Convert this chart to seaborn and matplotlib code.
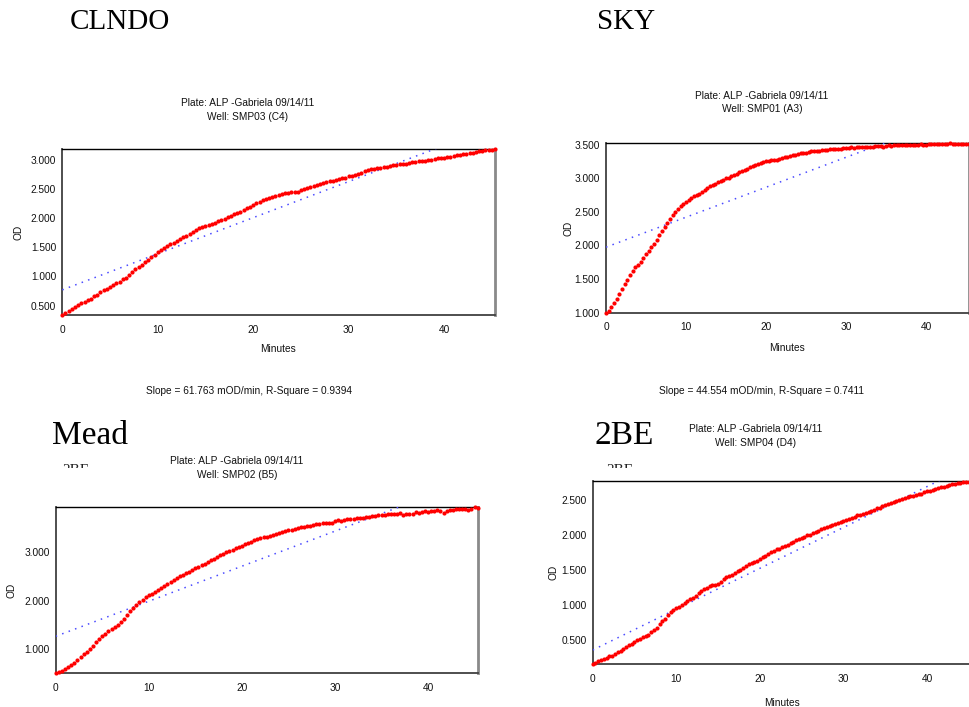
import numpy as np
import pandas as pd
import seaborn as sns
import matplotlib
matplotlib.use("Agg")
import matplotlib.pyplot as plt
from matplotlib.ticker import MultipleLocator, FormatStrFormatter
from matplotlib.patches import Rectangle

# ---- kinetic read times (seconds) ----
read_seconds = [
    0, 20, 40, 60, 80, 100, 120, 140, 160, 180,
    200, 220, 240, 260, 280, 300, 320, 340, 360, 380,
    400, 420, 440, 460, 480, 500, 520, 540, 560, 580,
    600, 620, 640, 660, 680, 700, 720, 740, 760, 780,
    800, 820, 840, 860, 880, 900, 920, 940, 960, 980,
    1000, 1020, 1040, 1060, 1080, 1100, 1120, 1140, 1160, 1180,
    1200, 1220, 1240, 1260, 1280, 1300, 1320, 1340, 1360, 1380,
    1400, 1420, 1440, 1460, 1480, 1500, 1520, 1540, 1560, 1580,
    1600, 1620, 1640, 1660, 1680, 1700, 1720, 1740, 1760, 1780,
    1800, 1820, 1840, 1860, 1880, 1900, 1920, 1940, 1960, 1980,
    2000, 2020, 2040, 2060, 2080, 2100, 2120, 2140, 2160, 2180,
    2200, 2220, 2240, 2260, 2280, 2300, 2320, 2340, 2360, 2380,
    2400, 2420, 2440, 2460, 2480, 2500, 2520, 2540, 2560, 2580,
    2600, 2620, 2640, 2660, 2680, 2700, 2720,
]

# ---- OD readings per well ----
od_clndo = [
    0.34, 0.37, 0.41, 0.44, 0.48, 0.51, 0.54, 0.57, 0.59, 0.62,
    0.66, 0.69, 0.73, 0.76, 0.79, 0.82, 0.85, 0.88, 0.91, 0.95,
    0.98, 1.03, 1.08, 1.12, 1.16, 1.20, 1.24, 1.28, 1.33, 1.37,
    1.41, 1.45, 1.48, 1.52, 1.55, 1.58, 1.61, 1.64, 1.67, 1.70,
    1.73, 1.76, 1.79, 1.82, 1.84, 1.86, 1.88, 1.90, 1.92, 1.94,
    1.96, 1.99, 2.01, 2.04, 2.07, 2.09, 2.11, 2.14, 2.17, 2.19,
    2.23, 2.26, 2.28, 2.30, 2.33, 2.35, 2.36, 2.38, 2.40, 2.41,
    2.42, 2.43, 2.44, 2.45, 2.45, 2.47, 2.49, 2.51, 2.53, 2.54,
    2.56, 2.58, 2.60, 2.61, 2.63, 2.64, 2.65, 2.67, 2.68, 2.69,
    2.71, 2.72, 2.74, 2.75, 2.77, 2.80, 2.82, 2.83, 2.84, 2.85,
    2.86, 2.87, 2.88, 2.89, 2.90, 2.91, 2.92, 2.92, 2.93, 2.94,
    2.95, 2.96, 2.97, 2.97, 2.98, 2.99, 3.00, 3.01, 3.02, 3.02,
    3.03, 3.04, 3.05, 3.06, 3.07, 3.08, 3.09, 3.10, 3.11, 3.12,
    3.13, 3.14, 3.15, 3.16, 3.17, 3.17, 3.18,
]
od_sky = [
    1.00, 1.03, 1.08, 1.14, 1.20, 1.28, 1.35, 1.42, 1.49, 1.56,
    1.62, 1.68, 1.71, 1.75, 1.81, 1.87, 1.92, 1.97, 2.02, 2.08,
    2.15, 2.21, 2.27, 2.33, 2.39, 2.45, 2.50, 2.55, 2.58, 2.62,
    2.65, 2.68, 2.71, 2.73, 2.75, 2.77, 2.80, 2.82, 2.85, 2.88,
    2.90, 2.92, 2.94, 2.96, 2.98, 3.00, 3.01, 3.03, 3.05, 3.07,
    3.09, 3.11, 3.13, 3.14, 3.16, 3.18, 3.19, 3.21, 3.22, 3.24,
    3.25, 3.26, 3.27, 3.27, 3.27, 3.29, 3.30, 3.31, 3.32, 3.33,
    3.34, 3.35, 3.36, 3.37, 3.38, 3.38, 3.39, 3.40, 3.40, 3.41,
    3.41, 3.42, 3.42, 3.42, 3.43, 3.43, 3.44, 3.44, 3.44, 3.45,
    3.45, 3.45, 3.46, 3.45, 3.46, 3.46, 3.47, 3.46, 3.47, 3.47,
    3.47, 3.48, 3.48, 3.48, 3.47, 3.48, 3.49, 3.48, 3.49, 3.49,
    3.49, 3.50, 3.49, 3.50, 3.50, 3.50, 3.50, 3.50, 3.51, 3.50,
    3.50, 3.51, 3.51, 3.51, 3.51, 3.51, 3.51, 3.51, 3.51, 3.52,
    3.51, 3.51, 3.51, 3.51, 3.51, 3.51, 3.51,
]
od_mead = [
    0.51, 0.53, 0.56, 0.60, 0.64, 0.68, 0.73, 0.78, 0.84, 0.90,
    0.95, 1.01, 1.08, 1.15, 1.21, 1.27, 1.32, 1.37, 1.42, 1.46,
    1.51, 1.57, 1.63, 1.70, 1.78, 1.85, 1.92, 1.97, 2.02, 2.07,
    2.11, 2.14, 2.18, 2.22, 2.26, 2.30, 2.35, 2.39, 2.43, 2.46,
    2.50, 2.53, 2.57, 2.60, 2.63, 2.67, 2.70, 2.73, 2.76, 2.79,
    2.83, 2.86, 2.90, 2.94, 2.97, 3.00, 3.03, 3.05, 3.08, 3.10,
    3.13, 3.16, 3.18, 3.21, 3.24, 3.26, 3.28, 3.30, 3.32, 3.34,
    3.36, 3.38, 3.40, 3.41, 3.43, 3.45, 3.46, 3.48, 3.49, 3.51,
    3.52, 3.53, 3.54, 3.56, 3.57, 3.58, 3.59, 3.59, 3.60, 3.60,
    3.63, 3.65, 3.64, 3.65, 3.67, 3.68, 3.68, 3.69, 3.70, 3.71,
    3.73, 3.73, 3.74, 3.75, 3.76, 3.77, 3.77, 3.78, 3.78, 3.78,
    3.79, 3.81, 3.77, 3.78, 3.79, 3.79, 3.82, 3.81, 3.83, 3.84,
    3.83, 3.85, 3.85, 3.86, 3.85, 3.81, 3.85, 3.87, 3.87, 3.88,
    3.89, 3.89, 3.88, 3.86, 3.89, 3.92, 3.90,
]
od_2be = [
    0.15, 0.17, 0.19, 0.21, 0.22, 0.24, 0.26, 0.27, 0.30, 0.32,
    0.34, 0.37, 0.39, 0.42, 0.44, 0.46, 0.49, 0.51, 0.53, 0.55,
    0.57, 0.61, 0.64, 0.67, 0.72, 0.76, 0.80, 0.85, 0.89, 0.92,
    0.95, 0.97, 1.00, 1.03, 1.05, 1.08, 1.10, 1.13, 1.16, 1.19,
    1.22, 1.24, 1.27, 1.28, 1.28, 1.30, 1.33, 1.36, 1.39, 1.41,
    1.43, 1.45, 1.48, 1.50, 1.52, 1.55, 1.58, 1.60, 1.61, 1.63,
    1.65, 1.68, 1.70, 1.72, 1.75, 1.77, 1.79, 1.80, 1.82, 1.84,
    1.86, 1.88, 1.90, 1.92, 1.94, 1.96, 1.97, 1.99, 2.00, 2.02,
    2.04, 2.06, 2.08, 2.09, 2.11, 2.12, 2.14, 2.15, 2.17, 2.18,
    2.20, 2.21, 2.22, 2.24, 2.26, 2.28, 2.29, 2.30, 2.31, 2.33,
    2.34, 2.35, 2.38, 2.39, 2.41, 2.43, 2.44, 2.46, 2.47, 2.49,
    2.50, 2.51, 2.52, 2.54, 2.55, 2.56, 2.57, 2.58, 2.59, 2.61,
    2.62, 2.63, 2.64, 2.66, 2.67, 2.68, 2.69, 2.70, 2.71, 2.72,
    2.73, 2.74, 2.74, 2.75, 2.75, 2.76, 2.77,
]

# ---- sample names, wells and linear fits (slope in OD/min) ----
sample_names = ["CLNDO", "SKY", "Mead", "2BE"]
well_labels = ["SMP03 (C4)", "SMP01 (A3)", "SMP02 (B5)", "SMP04 (D4)"]
plate_label = "Plate: ALP -Gabriela 09/14/11"
fit_slopes = [0.061763, 0.044554, 0.072, 0.0585]
fit_intercepts = [0.77, 1.975, 1.27, 0.35]
r_squares = [0.9394, 0.7411, None, None]

W, H = 970, 707
sns.set_style("white")
plt.rcParams["font.family"] = ["Liberation Sans", "DejaVu Sans"]

fig = plt.figure(figsize=(W / 100, H / 100), dpi=100)
fig.patch.set_facecolor("white")


def fx(x):
    return x / W


def fy(y):
    return 1 - y / H


def box(l, t, r, b):
    return [l / W, 1 - b / H, (r - l) / W, (b - t) / H]


small = dict(fontsize=7.3, color="#111111", ha="center", va="center")

layout = [
    dict(box=(62.3, 149, 495, 315), ymajor=0.5, yminor=0.25,
         title=(248, 103), minutes=(278, 349), od=(19, 232), slope=(249, 391),
         name=(120, 22), name_size=21),
    dict(box=(606, 143.3, 968.7, 312.7), ymajor=0.5, yminor=0.25,
         title=(762, 96), minutes=(787, 348), od=(569, 228), slope=(762, 391),
         name=(626, 22), name_size=21),
    dict(box=(55.7, 507.3, 477.7, 673.3), ymajor=1.0, yminor=0.5,
         title=(237, 461), minutes=None, od=(12, 590), slope=None,
         name=(90, 436), name_size=24),
    dict(box=(592.7, 481, 971.6, 664), ymajor=0.5, yminor=0.25,
         title=(756, 429), minutes=(782, 703), od=(554, 572), slope=None,
         name=(624, 436), name_size=24),
]

series = [od_clndo, od_sky, od_mead, od_2be]
minutes = np.array(read_seconds) / 60.0

for i, (od, lay) in enumerate(zip(series, layout)):
    ax = fig.add_axes(box(*lay["box"]))
    df = pd.DataFrame({"Minutes": minutes, "OD": od})

    # linear fit drawn from the reported slope
    fit_x = np.array([0.0, minutes[-1]])
    fit_y = fit_intercepts[i] + fit_slopes[i] * fit_x
    sns.lineplot(x=fit_x, y=fit_y, ax=ax, color="#4b4bff", linewidth=1.1,
                 linestyle=(0, (1, 3.5)), zorder=2)

    sns.scatterplot(data=df, x="Minutes", y="OD", ax=ax, color="#ff0000",
                    s=9, linewidth=0, zorder=3, clip_on=False)

    ax.set_xlim(0, minutes[-1])
    ax.set_ylim(min(od), max(od))
    ax.set_xlabel("")
    ax.set_ylabel("")
    ax.set_facecolor("white")

    ax.xaxis.set_major_locator(MultipleLocator(10))
    ax.xaxis.set_minor_locator(MultipleLocator(5))
    ax.yaxis.set_major_locator(MultipleLocator(lay["ymajor"]))
    ax.yaxis.set_minor_locator(MultipleLocator(lay["yminor"]))
    ax.yaxis.set_major_formatter(FormatStrFormatter("%.3f"))
    ax.xaxis.set_major_formatter(FormatStrFormatter("%d"))

    ax.tick_params(which="both", direction="inout", length=6, width=1.1,
                   color="#333333", labelsize=7.3, labelcolor="#111111",
                   top=False, right=False)
    ax.tick_params(axis="x", which="major", pad=4)
    ax.tick_params(axis="y", which="major", pad=1.5)

    ax.spines["left"].set_color("#404040")
    ax.spines["left"].set_linewidth(1.3)
    ax.spines["bottom"].set_color("#404040")
    ax.spines["bottom"].set_linewidth(1.3)
    ax.spines["top"].set_color("#000000")
    ax.spines["top"].set_linewidth(1.0)
    ax.spines["right"].set_color("#8a8a8a")
    ax.spines["right"].set_linewidth(2.0)
    for sp in ax.spines.values():
        sp.set_zorder(1)

    tx, ty = lay["title"]
    fig.text(fx(tx), fy(ty), plate_label, **small)
    fig.text(fx(tx), fy(ty + 13.5), "Well: " + well_labels[i], **small)
    if lay["minutes"]:
        fig.text(fx(lay["minutes"][0]), fy(lay["minutes"][1]), "Minutes", **small)
    fig.text(fx(lay["od"][0]), fy(lay["od"][1]), "OD", rotation=90, **small)
    if lay["slope"]:
        fig.text(fx(lay["slope"][0]), fy(lay["slope"][1]),
                 f"Slope = {fit_slopes[i] * 1000:.3f} mOD/min, "
                 f"R-Square = {r_squares[i]:.4f}", **small)

    fig.text(fx(lay["name"][0]), fy(lay["name"][1]), sample_names[i],
             fontsize=lay["name_size"], family=["Liberation Serif"],
             color="#000000", ha="center", va="center")

# partly hidden sample captions under the lower-row names
for cx in (76, 620):
    fig.text(fx(cx), fy(464), "2BE", fontsize=11, family=["Liberation Serif"],
             color="#222222", ha="center", va="top", zorder=1)
    fig.patches.append(Rectangle((fx(cx - 25), fy(480)), 50 / W, 12 / H,
                                 transform=fig.transFigure, facecolor="white",
                                 edgecolor="none", zorder=2))

fig.savefig("out.png", dpi=100, facecolor="white")
